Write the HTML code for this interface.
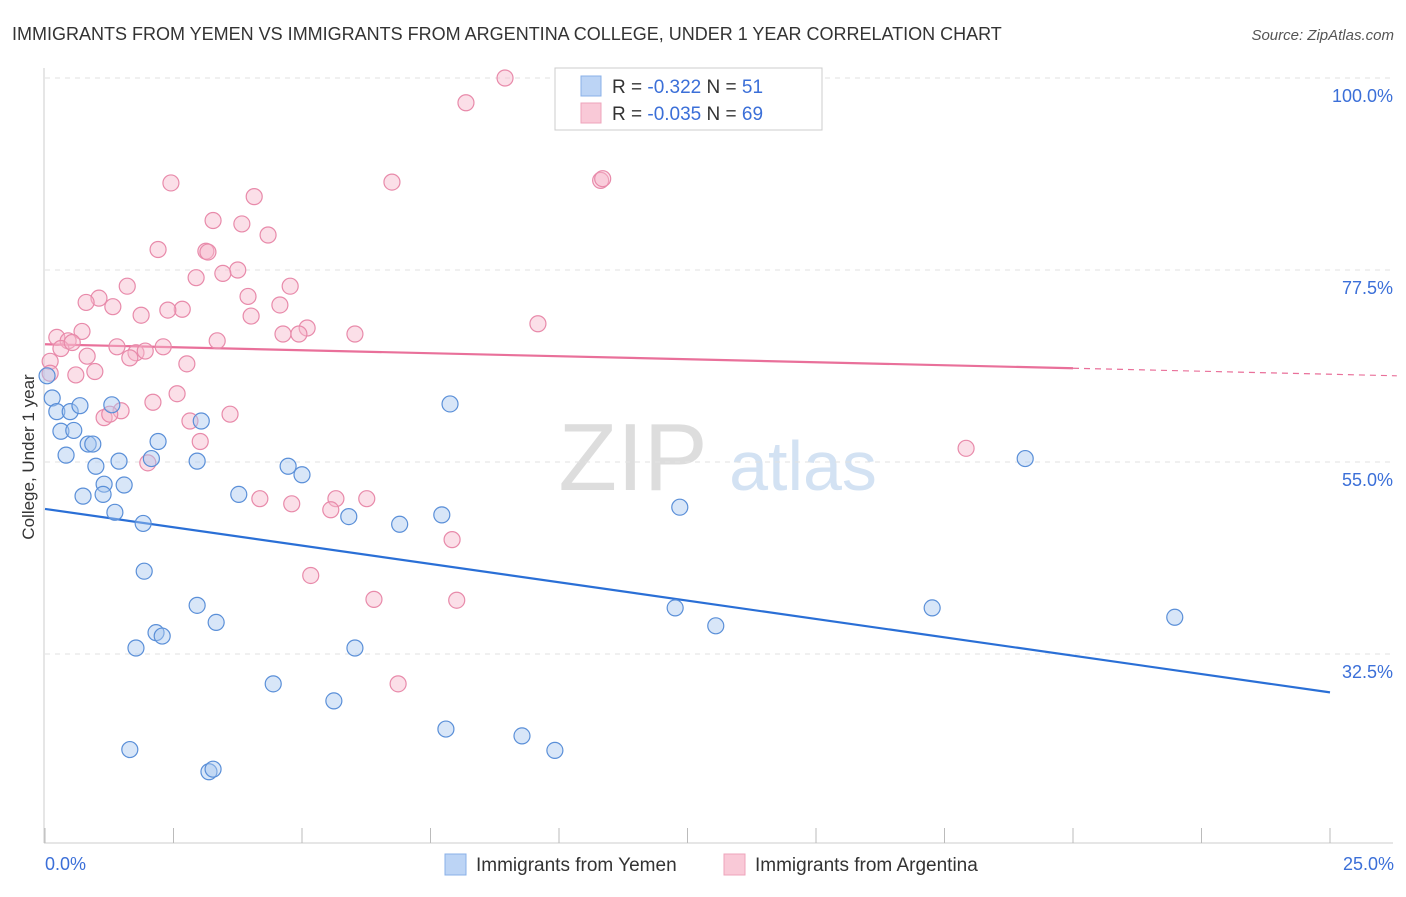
<!DOCTYPE html>
<html><head><meta charset="utf-8"><style>
body{margin:0;background:#fff;font-family:"Liberation Sans",sans-serif;}
svg text{font-family:"Liberation Sans",sans-serif;}
</style></head><body>
<svg id="chart" width="1406" height="892" xmlns="http://www.w3.org/2000/svg">
<text x="12" y="40" font-size="18" fill="#333">IMMIGRANTS FROM YEMEN VS IMMIGRANTS FROM ARGENTINA COLLEGE, UNDER 1 YEAR CORRELATION CHART</text>
<text x="1394" y="40" font-size="15" fill="#555" font-style="italic" text-anchor="end">Source: ZipAtlas.com</text>
<g><text x="633" y="490" font-size="96" fill="#ddd" font-family="Liberation Serif" text-anchor="middle">ZIP</text><text x="803" y="490" font-size="70" fill="#d3e2f3" text-anchor="middle">atlas</text></g>
<g id="grid"></g>
<g id="axes"></g>
<g id="trends"></g>
<g id="pts"></g>
<text transform="translate(34,457) rotate(-90)" font-size="17" fill="#333" text-anchor="middle">College, Under 1 year</text>
<g>
<rect x="555" y="68" width="267" height="62" fill="#fff" stroke="#ccc"/>
<rect x="581" y="76" width="20" height="20" fill="#bcd4f5" stroke="#8ab0e8"/>
<rect x="581" y="103" width="20" height="20" fill="#f9c9d7" stroke="#eea4bb"/>
<text x="612" y="93" font-size="19" fill="#333">R = <tspan fill="#3b6fd8">-0.322</tspan>   N = <tspan fill="#3b6fd8">51</tspan></text>
<text x="612" y="120" font-size="19" fill="#333">R = <tspan fill="#3b6fd8">-0.035</tspan>   N = <tspan fill="#3b6fd8">69</tspan></text>
</g>
<g>
<rect x="445" y="854" width="21" height="21" fill="#bcd4f5" stroke="#8ab0e8"/>
<text x="476" y="871" font-size="19" fill="#333">Immigrants from Yemen</text>
<rect x="724" y="854" width="21" height="21" fill="#f9c9d7" stroke="#eea4bb"/>
<text x="755" y="871" font-size="19" fill="#333">Immigrants from Argentina</text>
</g>
<text x="45" y="870" font-size="18" fill="#3b6fd8">0.0%</text>
<text x="1394" y="870" font-size="18" fill="#3b6fd8" text-anchor="end">25.0%</text>
</svg>
<script>
const yTicks=[100,77.5,55,32.5];
const yTickLabels=["100.0%","77.5%","55.0%","32.5%"];
const yemenX=[0.04,0.14,0.23,0.49,0.68,0.31,0.56,0.84,0.93,0.41,0.99,1.44,2.07,2.2,1.3,1.15,1.54,0.74,1.13,1.36,1.91,1.93,2.96,3.04,3.77,4.73,5.0,5.91,6.9,7.88,7.72,12.35,19.07,2.96,3.33,2.16,2.28,1.77,4.44,5.62,6.03,12.26,13.05,17.26,21.98,7.8,9.28,9.92,1.65,3.19,3.27];
const yemenY=[65.1,62.5,60.9,60.9,61.6,58.6,58.7,57.1,57.1,55.8,54.5,55.1,55.4,57.4,61.7,52.4,52.3,51.0,51.2,49.1,47.8,42.2,55.1,59.8,51.2,54.5,53.5,48.6,47.7,61.8,48.8,49.7,55.4,38.2,36.2,35.0,34.6,33.2,29.0,27.0,33.2,37.9,35.8,37.9,36.8,23.7,22.9,21.2,21.3,18.7,19.0];
const argX=[8.95,8.19,2.45,6.75,10.81,10.85,4.07,3.27,3.83,4.34,2.2,3.13,3.17,3.75,3.46,2.94,1.6,1.05,0.8,4.77,3.95,1.32,1.87,2.67,2.39,4.01,4.57,5.1,4.94,4.63,6.03,9.59,0.23,0.72,0.45,0.31,0.53,1.4,1.77,2.3,1.95,1.65,3.35,0.82,2.76,0.97,0.6,0.1,0.1,2.57,2.1,1.48,1.15,1.26,2.82,3.6,3.02,2.0,4.18,4.8,5.66,5.56,6.26,7.92,5.17,6.4,8.01,6.87,17.92];
const argY=[100,97.1,87.7,87.8,88.0,88.2,86.1,83.3,82.9,81.6,79.9,79.7,79.6,77.5,77.1,76.6,75.6,74.2,73.7,75.6,74.4,73.2,72.2,72.9,72.8,72.1,73.4,70.7,70.0,70.0,70.0,71.2,69.6,70.3,69.2,68.3,69.0,68.5,67.8,68.5,68.0,67.2,69.2,67.4,66.5,65.6,65.2,66.8,65.4,63.0,62.0,61.0,60.2,60.6,59.8,60.6,57.4,54.9,50.7,50.1,50.7,49.4,50.7,45.9,41.7,38.9,38.8,29.0,56.6];
const trendYemen=[49.5,28.0];
const trendArg=[68.8,65.1];
const X=v=>45+v/25*1285, Y=v=>78+(100-v)*8.533;
const NS="http://www.w3.org/2000/svg";
function mk(p,tag,at){const e=document.createElementNS(NS,tag);for(const k in at)e.setAttribute(k,at[k]);p.appendChild(e);return e;}
const grid=document.getElementById('grid'),axes=document.getElementById('axes'),tr=document.getElementById('trends'),pts=document.getElementById('pts');
yTicks.forEach((t,i)=>{
 const l=mk(grid,'line',{x1:45,x2:1393,y1:Y(t),y2:Y(t),stroke:'#e2e2e2','stroke-dasharray':'5,5'});
 
 
 const tx=mk(axes,'text',{x:1393,y:Y(t)+24,'font-size':18,fill:'#3b6fd8','text-anchor':'end'});
 tx.textContent=yTickLabels[i];
 
 
});
const al=mk(axes,'line',{x1:44,x2:44,y1:68,y2:843,stroke:'#ccc'});


const bl=mk(axes,'line',{x1:44,x2:1393,y1:843,y2:843,stroke:'#ccc'});


for(let i=0;i<=10;i++){const t=mk(axes,'line',{x1:X(i*2.5),x2:X(i*2.5),y1:828,y2:843,stroke:'#bbb'});
 
 }
function dots(xs,ys,fill,stroke,name){xs.forEach((x,i)=>{const c=mk(pts,'circle',{cx:X(x),cy:Y(ys[i]),r:8,fill:fill,'fill-opacity':0.45,stroke:stroke,'stroke-width':1.2});
 
 });}
dots(argX,argY,'#f7b8cc','#e88aaa','argentina-point');
dots(yemenX,yemenY,'#a9c8f0','#5a8fd8','yemen-point');
const ty=mk(tr,'line',{x1:X(0),y1:Y(trendYemen[0]),x2:X(25),y2:Y(trendYemen[1]),stroke:'#2a6fd6','stroke-width':2.2});


const ya=v=>trendArg[0]+(trendArg[1]-trendArg[0])*v/26.3;
const ta=mk(tr,'line',{x1:X(0),y1:Y(ya(0)),x2:X(20),y2:Y(ya(20)),stroke:'#e9709a','stroke-width':2.2});


const td=mk(tr,'line',{x1:X(20),y1:Y(ya(20)),x2:X(26.3),y2:Y(ya(26.3)),stroke:'#e9709a','stroke-width':1.2,'stroke-dasharray':'6,5'});


</script>
</body></html>
